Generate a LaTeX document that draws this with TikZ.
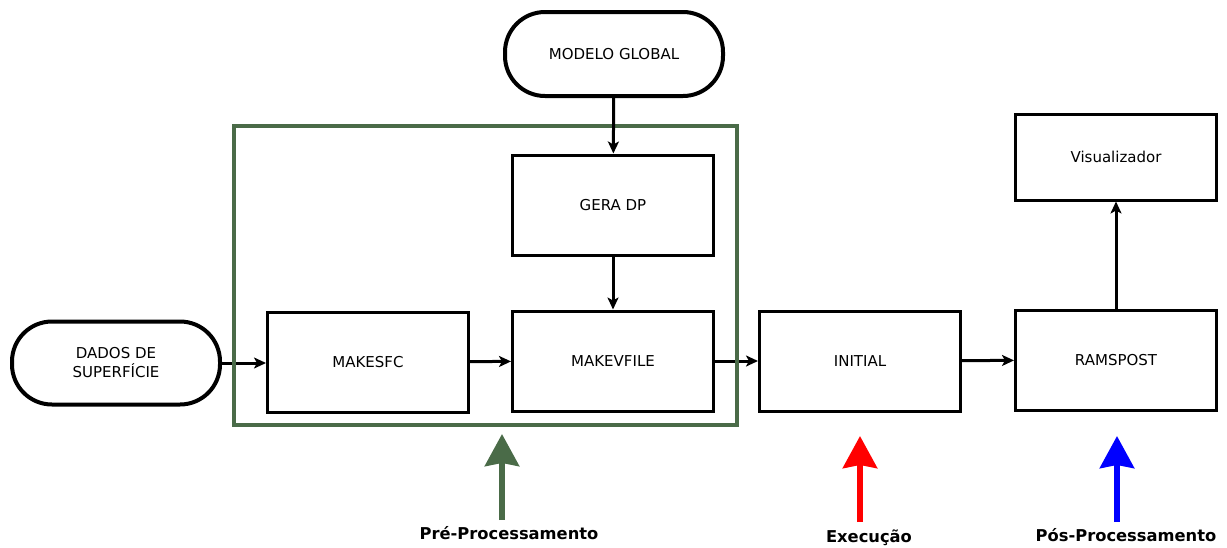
\documentclass[tikz,border=0pt]{standalone}
\usepackage{fontspec}
\setmainfont{DejaVu Sans}
\usetikzlibrary{arrows.meta}

\definecolor{pregreen}{RGB}{74,107,72}

\begin{document}
\begin{tikzpicture}[x=1pt, y=-1pt,
    box/.style={draw, line width=3pt, minimum width=201pt, minimum height=100pt, font=\fontsize{15}{19}\selectfont, align=center},
    pill/.style={draw, line width=4pt, rounded corners=40pt, minimum width=208pt, minimum height=83pt, font=\fontsize{15}{19}\selectfont, align=center},
    flow/.style={line width=3pt, -{Stealth[length=12pt, width=11pt, inset=3pt]}},
    phase/.style={line width=6pt, -{Stealth[length=32pt, width=34pt, inset=3pt]}},
    phaselabel/.style={font=\bfseries\fontsize{16.3}{19}\selectfont}]

    \useasboundingbox (0,0) rectangle (1227,547);

    % entradas
    \node[pill] (dados) at (116,363) {DADOS DE\\SUPERFÍCIE};
    \node[pill, minimum width=218pt, minimum height=84pt] (modelo) at (614,54) {MODELO GLOBAL};

    % caixas
    \node[box] (gera) at (613,205) {GERA DP};
    \node[box] (makesfc) at (368,362) {MAKESFC};
    \node[box] (makevfile) at (613,361) {MAKEVFILE};
    \node[box] (initial) at (860,361) {INITIAL};
    \node[box] (ramspost) at (1116,360) {RAMSPOST};
    \node[box, minimum height=86pt] (visual) at (1116,157) {Visualizador};

    % fluxo
    \draw[flow] (dados.east) -- (dados.east -| makesfc.west);
    \draw[flow] (makesfc) -- (makevfile);
    \draw[flow] (makevfile) -- (initial);
    \draw[flow] (initial) -- (ramspost);
    \draw[flow] (ramspost) -- (visual);
    \draw[flow] (gera) -- (makevfile);

    % pre-processamento
    \draw[pregreen, line width=4pt] (234,126) rectangle (737,425);
    \draw[flow] (modelo) -- (gera);

    % fases
    \coordinate (pre) at (502,520);
    \coordinate (exe) at (860,522);
    \coordinate (pos) at (1117,522);
    \draw[phase, pregreen] (pre) -- ++(0,-86);
    \draw[phase, red] (exe) -- ++(0,-86);
    \draw[phase, blue] (pos) -- ++(0,-86);
    \node[phaselabel] (prelabel) at (509,533) {Pré-Processamento};
    \node[phaselabel] (exelabel) at (869,538) {Execução};
    \node[phaselabel] (poslabel) at (1126,535) {Pós-Processamento};

\end{tikzpicture}
\end{document}
